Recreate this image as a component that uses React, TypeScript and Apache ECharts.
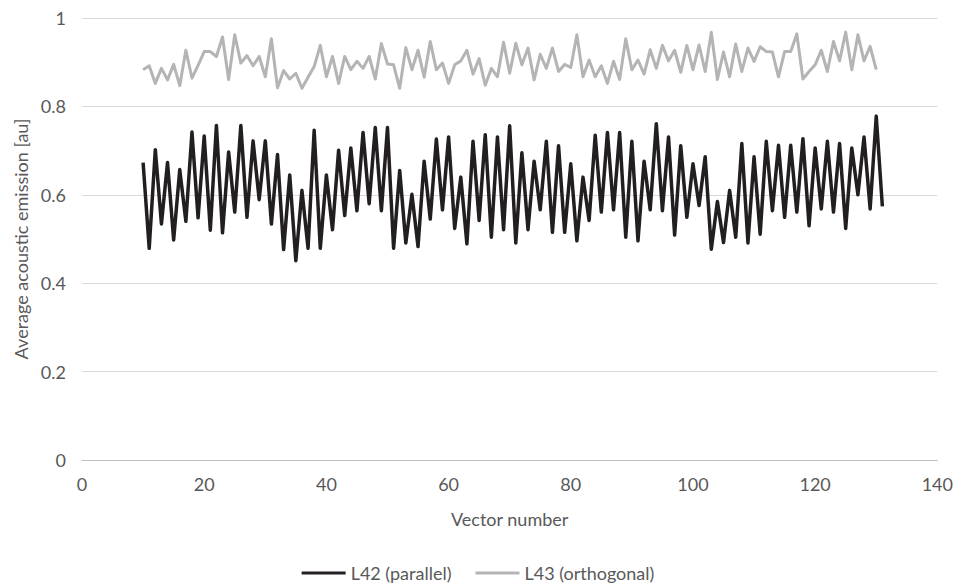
import React, { useEffect, useRef } from "react";
import * as echarts from "echarts";

const firstVector = 10;

const l42Parallel = [
  0.673, 0.479, 0.702, 0.534, 0.673, 0.498, 0.657, 0.540, 0.742, 0.548,
  0.733, 0.520, 0.757, 0.514, 0.697, 0.561, 0.757, 0.549, 0.722, 0.589,
  0.722, 0.534, 0.691, 0.476, 0.645, 0.451, 0.610, 0.479, 0.746, 0.479,
  0.645, 0.521, 0.701, 0.553, 0.706, 0.564, 0.741, 0.580, 0.752, 0.564,
  0.752, 0.479, 0.655, 0.491, 0.601, 0.483, 0.676, 0.545, 0.726, 0.566,
  0.731, 0.524, 0.640, 0.489, 0.721, 0.542, 0.736, 0.504, 0.731, 0.521,
  0.756, 0.491, 0.695, 0.521, 0.676, 0.566, 0.721, 0.515, 0.711, 0.515,
  0.670, 0.496, 0.640, 0.542, 0.735, 0.561, 0.741, 0.566, 0.741, 0.504,
  0.721, 0.496, 0.676, 0.566, 0.761, 0.564, 0.731, 0.509, 0.711, 0.549,
  0.670, 0.576, 0.686, 0.477, 0.585, 0.492, 0.610, 0.504, 0.716, 0.491,
  0.686, 0.511, 0.721, 0.564, 0.712, 0.549, 0.712, 0.561, 0.727, 0.530,
  0.706, 0.568, 0.721, 0.561, 0.716, 0.524, 0.706, 0.600, 0.731, 0.568,
  0.778, 0.574,
];

const l43Orthogonal = [
  0.883, 0.892, 0.852, 0.886, 0.860, 0.895, 0.847, 0.927, 0.864, 0.893,
  0.924, 0.924, 0.913, 0.957, 0.861, 0.962, 0.898, 0.915, 0.892, 0.913,
  0.867, 0.953, 0.842, 0.881, 0.862, 0.875, 0.841, 0.866, 0.890, 0.938,
  0.867, 0.913, 0.852, 0.913, 0.883, 0.902, 0.886, 0.913, 0.862, 0.942,
  0.896, 0.894, 0.841, 0.933, 0.883, 0.927, 0.866, 0.947, 0.883, 0.898,
  0.852, 0.894, 0.903, 0.927, 0.873, 0.908, 0.848, 0.886, 0.867, 0.945,
  0.875, 0.943, 0.894, 0.932, 0.860, 0.918, 0.886, 0.932, 0.879, 0.895,
  0.888, 0.962, 0.867, 0.905, 0.867, 0.892, 0.852, 0.902, 0.861, 0.953,
  0.883, 0.905, 0.873, 0.928, 0.886, 0.938, 0.903, 0.927, 0.877, 0.938,
  0.883, 0.939, 0.879, 0.968, 0.861, 0.923, 0.867, 0.941, 0.879, 0.932,
  0.902, 0.935, 0.924, 0.923, 0.867, 0.924, 0.924, 0.964, 0.862, 0.879,
  0.894, 0.927, 0.879, 0.947, 0.903, 0.968, 0.883, 0.962, 0.903, 0.936,
  0.883,
];

const seriesNames = ["L42 (parallel)", "L43 (orthogonal)"];
const seriesColors = ["#231f20", "#b3b4b6"];
const xTitle = "Vector number";
const yTitle = "Average acoustic emission [au]";

const toPairs = (vals: number[]) => vals.map((v, i) => [firstVector + i, v]);

const FONT = "Lato, 'Open Sans', sans-serif";
const TEXT = "#595959";

export default function App() {
  const ref = useRef<HTMLDivElement>(null);
  useEffect(() => {
    if (!ref.current) return;
    const chart = echarts.init(ref.current, undefined, { renderer: "svg" });
    chart.setOption({
      animation: false,
      backgroundColor: "#ffffff",
      textStyle: { fontFamily: FONT },
      grid: { left: 82, right: 17, top: 18, bottom: 125, containLabel: false },
      legend: {
        top: 563,
        padding: 0,
        left: "center",
        icon: "rect",
        itemWidth: 44,
        itemHeight: 3,
        itemGap: 24,
        textStyle: { color: TEXT, fontSize: 18, lineHeight: 20, fontFamily: FONT },
        data: seriesNames,
      },
      xAxis: {
        type: "value",
        min: 0,
        max: 140,
        interval: 20,
        name: xTitle,
        nameLocation: "middle",
        nameGap: 50,
        nameTextStyle: { color: TEXT, fontSize: 18, fontFamily: FONT },
        axisLine: { show: true, lineStyle: { color: "#bfbfbf", width: 1 } },
        axisTick: { show: false },
        axisLabel: { color: TEXT, fontSize: 18, margin: 15, fontFamily: FONT },
        splitLine: { show: false },
      },
      yAxis: {
        type: "value",
        min: 0,
        max: 1,
        interval: 0.2,
        name: yTitle,
        nameLocation: "middle",
        nameGap: 50,
        nameTextStyle: { color: TEXT, fontSize: 18, fontFamily: FONT },
        axisLine: { show: false },
        axisTick: { show: false },
        axisLabel: { color: TEXT, fontSize: 18, margin: 16, fontFamily: FONT },
        splitLine: { show: true, lineStyle: { color: "#d9d9d9", width: 1 } },
      },
      series: [
        {
          name: seriesNames[0],
          type: "line",
          data: toPairs(l42Parallel),
          symbol: "none",
          color: seriesColors[0],
          lineStyle: { color: seriesColors[0], width: 3.5, join: "round" },
        },
        {
          name: seriesNames[1],
          type: "line",
          data: toPairs(l43Orthogonal),
          symbol: "none",
          color: seriesColors[1],
          lineStyle: { color: seriesColors[1], width: 3, join: "round" },
        },
      ],
    });
    return () => chart.dispose();
  }, []);
  return <div ref={ref} style={{ width: 956, height: 585, position: "absolute", left: 0, top: 0 }} />;
}
